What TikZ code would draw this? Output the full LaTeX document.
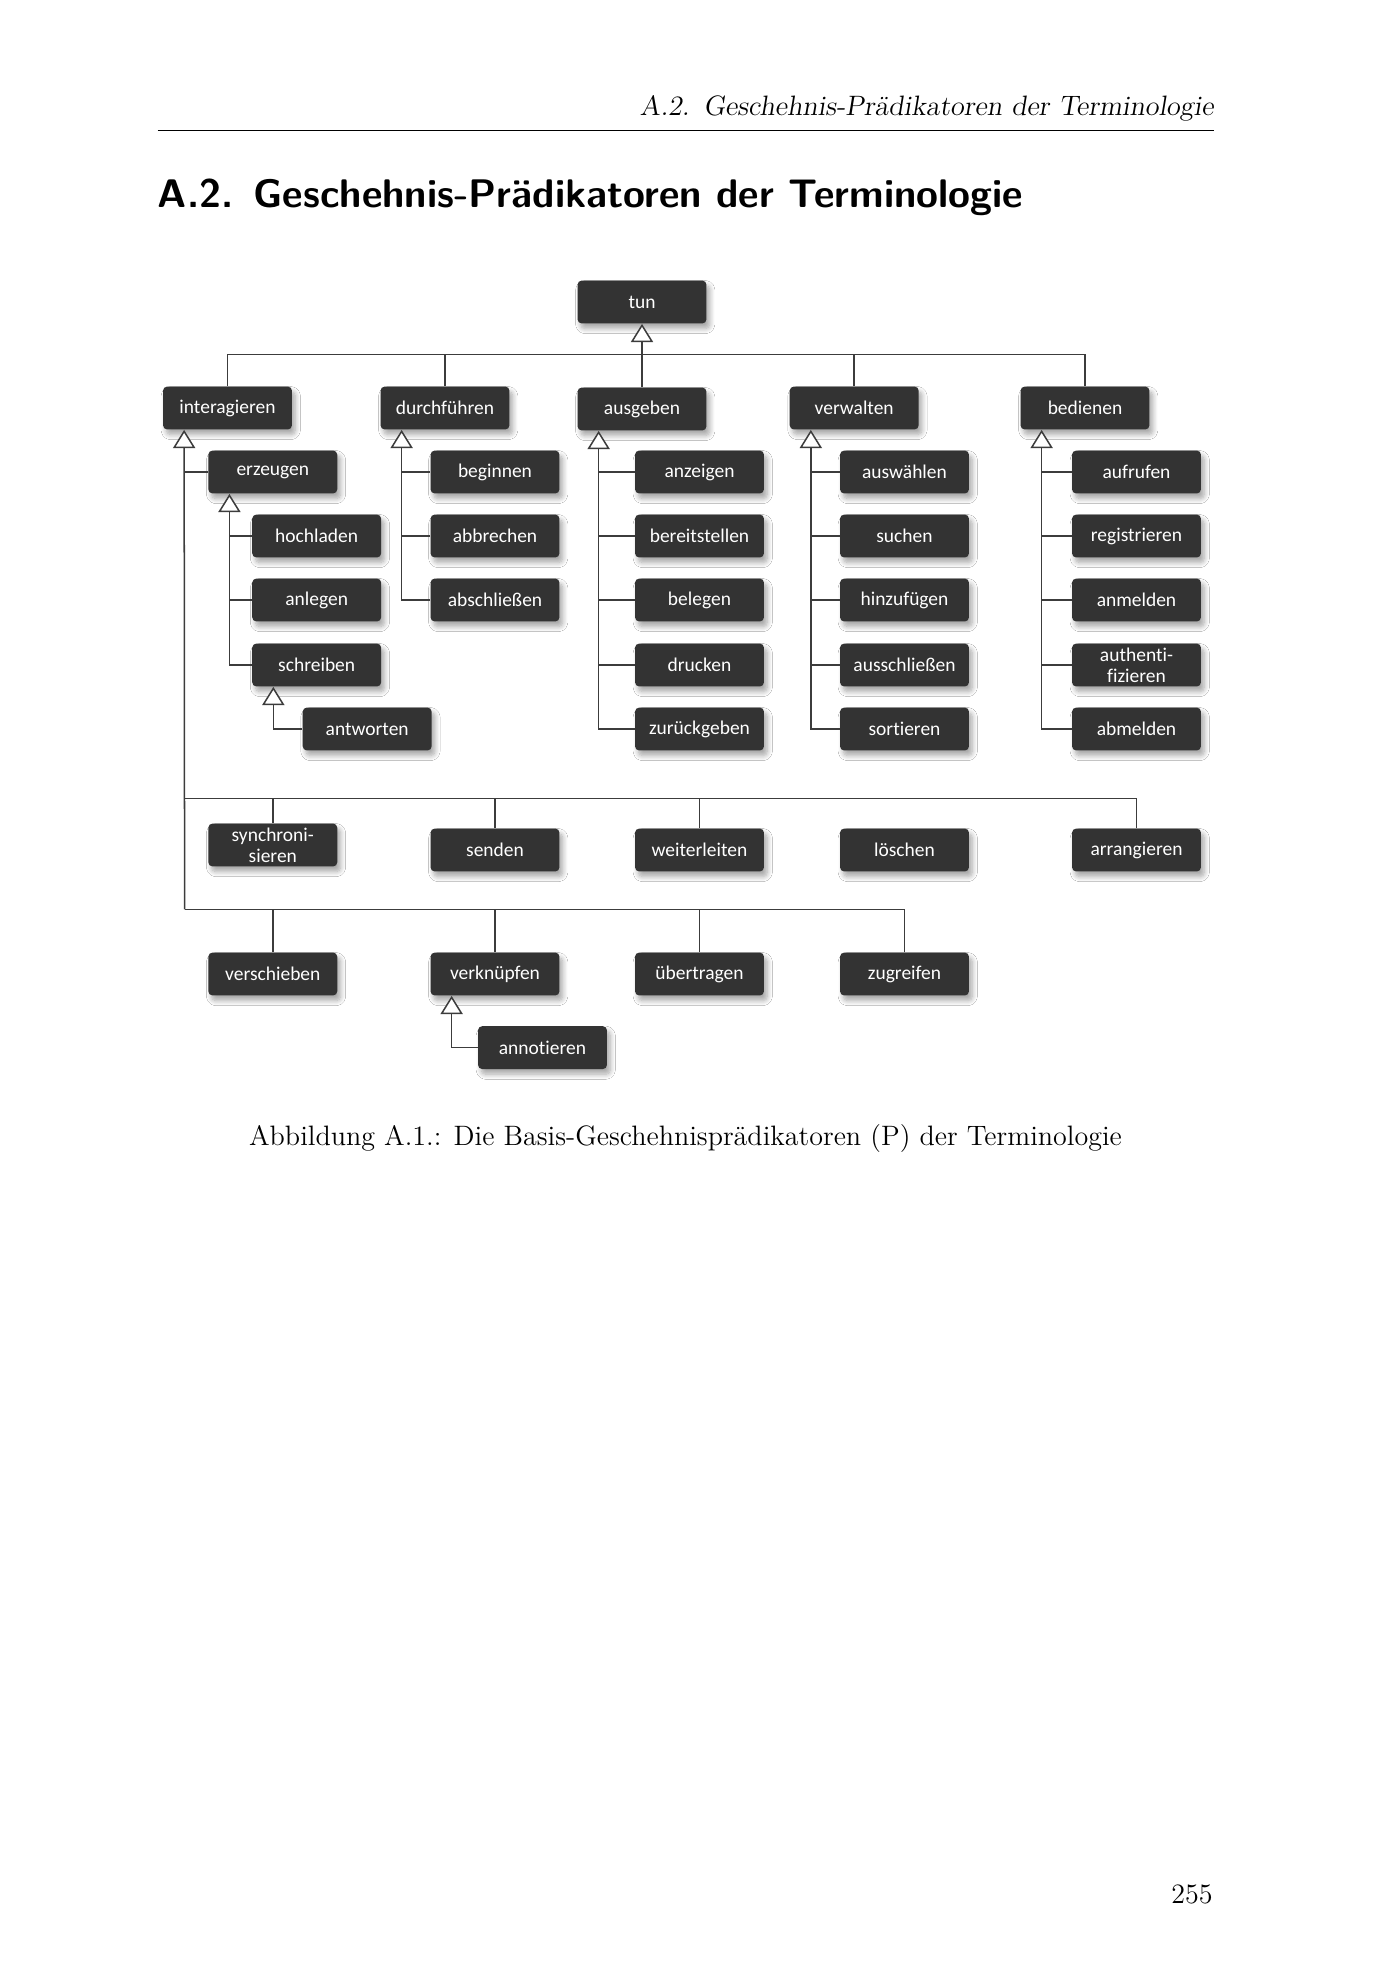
\documentclass[tikz,border=0pt]{standalone}
\usepackage{fontspec}
\newfontfamily\boxfont[Ligatures=NoCommon]{Carlito}
\usetikzlibrary{arrows.meta,shadows.blur}
\definecolor{boxgrey}{HTML}{333333}
\definecolor{linegrey}{HTML}{3C3C3C}
\tikzset{
  box/.style={fill=boxgrey, text=white, rounded corners=1.8pt,
    minimum width=55.6pt, minimum height=18.5pt, inner sep=1pt,
    align=center, font=\boxfont\fontsize{8.4}{9.2}\selectfont,
    blur shadow={shadow xshift=1.4pt, shadow yshift=-2.2pt,
      shadow blur radius=2.2pt, shadow blur steps=8, shadow opacity=35}},
  line/.style={draw=linegrey, line width=0.65pt},
  gen/.style={-{Triangle[open, fill=white, width=9.5pt, length=7.8pt]}},
  plain/.style={inner sep=0pt}
}
\begin{document}
\begin{tikzpicture}[x=0.4312pt, y=-0.4312pt]
  \fill[white] (0,0) rectangle (1386,1969);
  \useasboundingbox (0,0) rectangle (1386,1969);
  \draw
    (1214,115) node[plain, anchor=base east, font=\fontsize{12.1}{14.5}\selectfont\slshape] (kopf){A.2.\enspace Geschehnis-Prädikatoren der Terminologie}
    (157.5,207.7) node[plain, anchor=base west, font=\fontsize{17.2}{22}\selectfont\sffamily\bfseries] (titel){A.2.\hspace{8.7pt}Geschehnis-Prädikatoren der Terminologie}
    (685.5,1145) node[plain, anchor=base, font=\fontsize{12.1}{14.5}\selectfont] (caption){Abbildung A.1.: Die Basis-Geschehnisprädikatoren (P) der Terminologie}
    (1213,1903) node[plain, anchor=base east, font=\fontsize{12.1}{14.5}\selectfont] (seite){255};
  \draw[line width=0.4pt] (157.5,130.7) -- (1214,130.7);
  \draw
    (642,302) node[box] (tun){tun}
    (227.5,408) node[box] (interagieren){interagieren}
    (445,408) node[box] (durchfuehren){durchführen}
    (642,409) node[box] (ausgeben){ausgeben}
    (854.2,408) node[box] (verwalten){verwalten}
    (1085,408) node[box] (bedienen){bedienen}
    (272.8,472) node[box] (erzeugen){erzeugen}
    (316.7,536) node[box] (hochladen){hochladen}
    (316.7,600) node[box] (anlegen){anlegen}
    (316.7,665) node[box] (schreiben){schreiben}
    (367.2,729) node[box] (antworten){antworten}
    (495,472) node[box] (beginnen){beginnen}
    (495,536) node[box] (abbrechen){abbrechen}
    (495,600) node[box] (abschliessen){abschließen}
    (699.5,472) node[box] (anzeigen){anzeigen}
    (699.5,536) node[box] (bereitstellen){bereitstellen}
    (699.5,600) node[box] (belegen){belegen}
    (699.5,665) node[box] (drucken){drucken}
    (699.5,729) node[box] (zurueckgeben){zurückgeben}
    (904.5,472) node[box] (auswaehlen){auswählen}
    (904.5,536) node[box] (suchen){suchen}
    (904.5,600) node[box] (hinzufuegen){hinzufügen}
    (904.5,665) node[box] (ausschliessen){ausschließen}
    (904.5,729) node[box] (sortieren){sortieren}
    (1136.5,472) node[box] (aufrufen){aufrufen}
    (1136.5,536) node[box] (registrieren){registrieren}
    (1136.5,600) node[box] (anmelden){anmelden}
    (1136.5,665) node[box] (authentifizieren){authenti-\\fizieren}
    (1136.5,729) node[box] (abmelden){abmelden}
    (272.8,845) node[box] (synchronisieren){synchroni-\\sieren}
    (495,850) node[box] (senden){senden}
    (699.5,850) node[box] (weiterleiten){weiterleiten}
    (904.5,850) node[box] (loeschen){löschen}
    (1136.5,850) node[box] (arrangieren){arrangieren}
    (272.8,974) node[box] (verschieben){verschieben}
    (495,974) node[box] (verknuepfen){verknüpfen}
    (699.5,974) node[box] (uebertragen){übertragen}
    (904.5,974) node[box] (zugreifen){zugreifen}
    (542.5,1047.6) node[box] (annotieren){annotieren};
  \begin{scope}[line]
    \coordinate (bus) at (642,354.3);
    \coordinate (iaG) at ([xshift=9.3pt]interagieren.south west);
    \coordinate (iaMid) at (184.6,798.7);
    \coordinate (iaEnd) at (184.6,909.3);
    \coordinate (ezG) at ([xshift=9.3pt]erzeugen.south west);
    \coordinate (swG) at ([xshift=9.3pt]schreiben.south west);
    \coordinate (dfG) at ([xshift=9.3pt]durchfuehren.south west);
    \coordinate (agG) at ([xshift=9.3pt]ausgeben.south west);
    \coordinate (vwG) at ([xshift=9.3pt]verwalten.south west);
    \coordinate (bdG) at ([xshift=9.3pt]bedienen.south west);
    \coordinate (vkG) at ([xshift=9.3pt]verknuepfen.south west);
    \draw[gen] (ausgeben) -- (tun);
    \draw (interagieren) |- (bus);
    \draw (durchfuehren) |- (bus);
    \draw (verwalten) |- (bus);
    \draw (bedienen) |- (bus);
    \draw[gen] (iaEnd) -- (iaG);
    \draw (erzeugen) -- (erzeugen -| iaG);
    \draw (synchronisieren) |- (iaMid);
    \draw (senden) |- (iaMid);
    \draw (weiterleiten) |- (iaMid);
    \draw (arrangieren) |- (iaMid);
    \draw (verschieben) |- (iaEnd);
    \draw (verknuepfen) |- (iaEnd);
    \draw (uebertragen) |- (iaEnd);
    \draw (zugreifen) |- (iaEnd);
    \draw[gen] (schreiben) -| (ezG);
    \draw (hochladen) -- (hochladen -| ezG);
    \draw (anlegen) -- (anlegen -| ezG);
    \draw[gen] (antworten) -| (swG);
    \draw[gen] (abschliessen) -| (dfG);
    \draw (beginnen) -- (beginnen -| dfG);
    \draw (abbrechen) -- (abbrechen -| dfG);
    \draw[gen] (zurueckgeben) -| (agG);
    \draw (anzeigen) -- (anzeigen -| agG);
    \draw (bereitstellen) -- (bereitstellen -| agG);
    \draw (belegen) -- (belegen -| agG);
    \draw (drucken) -- (drucken -| agG);
    \draw[gen] (sortieren) -| (vwG);
    \draw (auswaehlen) -- (auswaehlen -| vwG);
    \draw (suchen) -- (suchen -| vwG);
    \draw (hinzufuegen) -- (hinzufuegen -| vwG);
    \draw (ausschliessen) -- (ausschliessen -| vwG);
    \draw[gen] (abmelden) -| (bdG);
    \draw (aufrufen) -- (aufrufen -| bdG);
    \draw (registrieren) -- (registrieren -| bdG);
    \draw (anmelden) -- (anmelden -| bdG);
    \draw (authentifizieren) -- (authentifizieren -| bdG);
    \draw[gen] (annotieren) -| (vkG);
  \end{scope}
\end{tikzpicture}
\end{document}
